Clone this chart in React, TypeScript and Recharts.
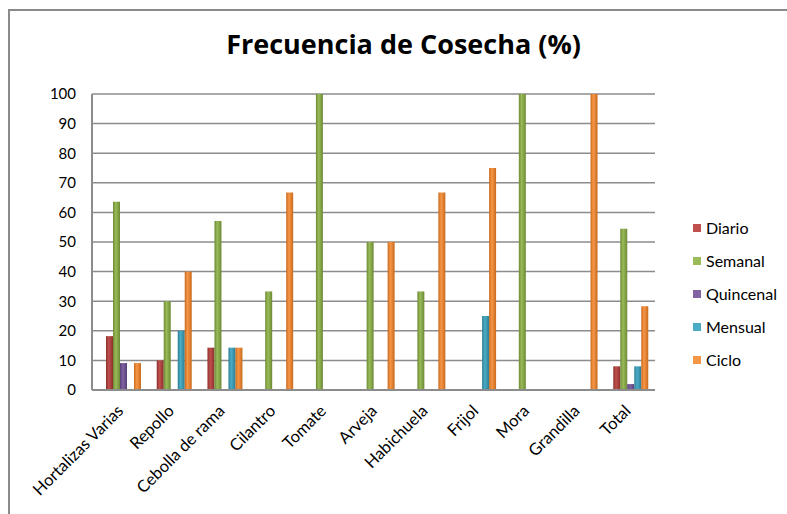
import React from 'react';
import {
  BarChart,
  Bar,
  XAxis,
  YAxis,
  CartesianGrid,
} from 'recharts';

const categories = [
  'Hortalizas Varias',
  'Repollo',
  'Cebolla de rama',
  'Cilantro',
  'Tomate',
  'Arveja',
  'Habichuela',
  'Frijol',
  'Mora',
  'Grandilla',
  'Total',
];

const diario = [18.2, 10, 14.3, 0, 0, 0, 0, 0, 0, 0, 8];
const semanal = [63.6, 30, 57.1, 33.3, 100, 50, 33.3, 0, 100, 0, 54.5];
const quincenal = [9.1, 0, 0, 0, 0, 0, 0, 0, 0, 0, 2];
const mensual = [0, 20, 14.3, 0, 0, 0, 0, 25, 0, 0, 8];
const ciclo = [9.1, 40, 14.3, 66.7, 0, 50, 66.7, 75, 0, 100, 28.3];

const yTicks = [0, 10, 20, 30, 40, 50, 60, 70, 80, 90, 100];

const series = [
  { key: 'diario', name: 'Diario', color: '#C0504D', dark: '#8c2f2c', values: diario },
  { key: 'semanal', name: 'Semanal', color: '#9BBB59', dark: '#6b8a34', values: semanal },
  { key: 'quincenal', name: 'Quincenal', color: '#8064A2', dark: '#583f78', values: quincenal },
  { key: 'mensual', name: 'Mensual', color: '#4BACC6', dark: '#2b7d93', values: mensual },
  { key: 'ciclo', name: 'Ciclo', color: '#F79646', dark: '#c86a1e', values: ciclo },
];

const data = categories.map((name, i) => {
  const row: Record<string, string | number> = { name };
  series.forEach((s) => {
    row[s.key] = s.values[i];
  });
  return row;
});

const FONT = 'Lato, "Open Sans", sans-serif';

const CategoryTick = (props: any) => {
  const { x, y, payload } = props;
  return (
    <g transform={`translate(${x + 2},${y + 20}) rotate(-45)`}>
      <text x={0} y={0} textAnchor="end" fill="#000" fontSize={16.5} fontFamily={FONT}>
        {payload.value}
      </text>
    </g>
  );
};

export default function App() {
  return (
    <div style={{ position: 'absolute', left: 0, top: 0, width: 787, height: 514, background: '#fff', overflow: 'hidden' }}>
      <div
        style={{
          position: 'absolute',
          left: 8,
          top: 9,
          width: 800,
          height: 520,
          borderTop: '2px solid #8a8a8a',
          borderLeft: '2px solid #8a8a8a',
        }}
      />
      <div
        style={{
          position: 'absolute',
          left: 0,
          width: 787,
          top: 25,
          textAlign: 'center',
          paddingLeft: 20,
          boxSizing: 'border-box',
          fontFamily: '"Open Sans", sans-serif',
          fontWeight: 'bold',
          fontSize: 27,
          color: '#000',
        }}
      >
        Frecuencia de Cosecha (%)
      </div>
      <div style={{ position: 'absolute', left: 0, top: 0 }}>
        <BarChart
          width={787}
          height={514}
          data={data}
          margin={{ top: 94, right: 132, bottom: 0, left: 52 }}
          barCategoryGap={9}
          barGap={0}
        >
          <defs>
            {series.map((s) => (
              <linearGradient key={s.key} id={`cyl-${s.key}`} x1="0" y1="0" x2="1" y2="0">
                <stop offset="0%" stopColor={s.dark} />
                <stop offset="40%" stopColor={s.color} />
                <stop offset="100%" stopColor={s.dark} />
              </linearGradient>
            ))}
          </defs>
          <CartesianGrid vertical={false} stroke="#8c8c8c" strokeWidth={1.5} />
          <XAxis
            dataKey="name"
            interval={0}
            tickLine={false}
            tickSize={0}
            axisLine={{ stroke: '#8c8c8c', strokeWidth: 2 }}
            padding={{ left: 5, right: 0 }}
            tick={<CategoryTick />}
            height={124}
          />
          <YAxis
            domain={[0, 100]}
            ticks={yTicks}
            interval={0}
            width={40}
            tickLine={false}
            tickSize={0}
            tickMargin={16}
            axisLine={{ stroke: '#8c8c8c', strokeWidth: 2 }}
            tick={{ fill: '#000', fontSize: 15, fontFamily: FONT }}
          />
          {series.map((s) => (
            <Bar
              key={s.key}
              dataKey={s.key}
              name={s.name}
              fill={`url(#cyl-${s.key})`}
              isAnimationActive={false}
            />
          ))}
        </BarChart>
      </div>
      <div style={{ position: 'absolute', left: 693, top: 211, fontFamily: FONT, fontSize: 16, color: '#000' }}>
        {series.map((s) => (
          <div key={s.key} style={{ display: 'flex', alignItems: 'center', height: 33 }}>
            <span style={{ width: 8, height: 8, background: s.color, marginRight: 5, display: 'inline-block' }} />
            <span>{s.name}</span>
          </div>
        ))}
      </div>
    </div>
  );
}
